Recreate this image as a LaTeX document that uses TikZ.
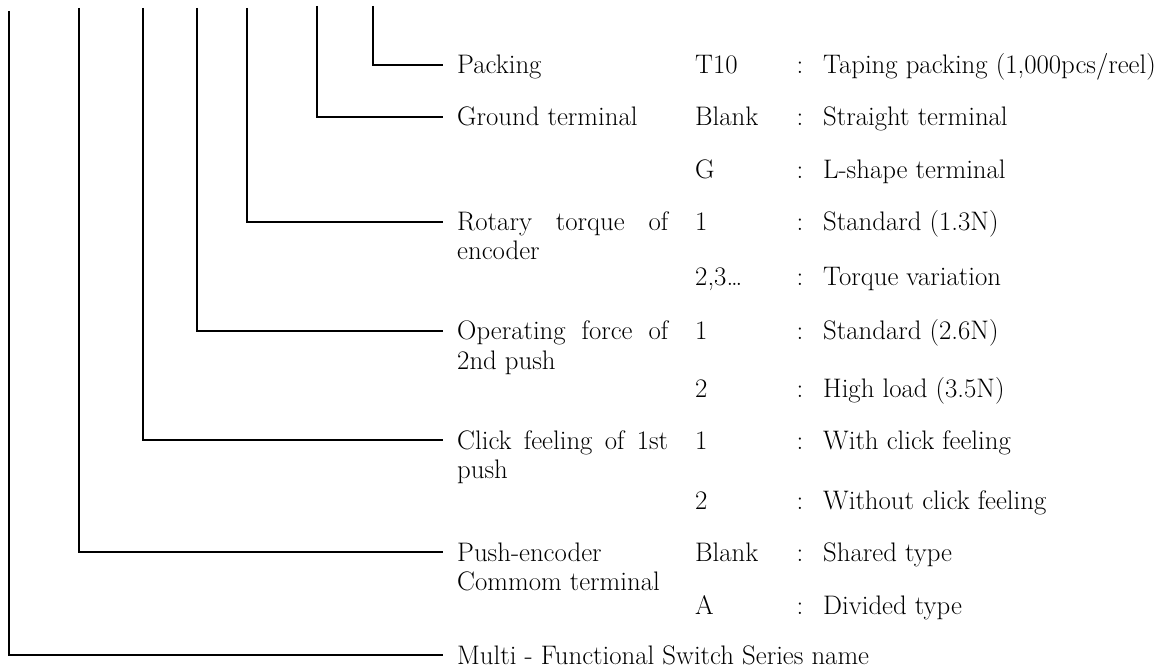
\documentclass[tikz,border=0pt]{standalone}
\begin{document}
\begin{tikzpicture}[x=1pt,y=-1pt,
  txt/.style={anchor=base west, inner sep=0pt, font=\fontsize{26.8}{29}\selectfont},
  colon/.style={anchor=base, inner sep=0pt, font=\fontsize{26.8}{29}\selectfont},
  conn/.style={line width=2pt, line join=miter}]
\useasboundingbox (0,0) rectangle (1171,671);
% top ends of the vertical lines
\coordinate (t1) at (9,11);
\coordinate (t2) at (79,8);
\coordinate (t3) at (143,8);
\coordinate (t4) at (197,8);
\coordinate (t5) at (247,8);
\coordinate (t6) at (317,6);
\coordinate (t7) at (373,6);
% labels (baseline = line y + 8.5)
\node[txt] (lpk) at (457,74) {Packing};
\node[txt] (lgt) at (457,126) {Ground terminal};
\node[txt] (lrt) at (457,231) {\vtop{\hbox{\makebox[211pt][s]{Rotary torque of}}\hbox{encoder}}};
\node[txt] (lof) at (457,340) {\vtop{\hbox{\makebox[211pt][s]{Operating force of}}\hbox{2nd push}}};
\node[txt] (lcf) at (457,449) {\vtop{\hbox{\makebox[211pt][s]{Click feeling of 1st}}\hbox{push}}};
\node[txt] (lpe) at (457,561) {\vtop{\hbox{Push-encoder}\hbox{Commom terminal}}};
\node[txt] (lms) at (457,664) {Multi - Functional Switch Series name};
% connectors
\draw[conn] (t1) |- ([shift={(-14,-9)}]lms.base west);
\draw[conn] (t2) |- ([shift={(-14,-9)}]lpe.base west);
\draw[conn] (t3) |- ([shift={(-14,-9)}]lcf.base west);
\draw[conn] (t4) |- ([shift={(-14,-9)}]lof.base west);
\draw[conn] (t5) |- ([shift={(-14,-9)}]lrt.base west);
\draw[conn] (t6) |- ([shift={(-14,-9)}]lgt.base west);
\draw[conn] (t7) |- ([shift={(-14,-9)}]lpk.base west);
% options
\foreach \i/\y/\c/\d in {
  1/65/T10/{Taping packing (1,000pcs/reel)},
  2/117/Blank/{Straight terminal},
  3/170/G/{L-shape terminal},
  4/222/1/{Standard (1.3N)},
  5/277/{2,3\ldots}/{Torque variation},
  6/331/1/{Standard (2.6N)},
  7/388/2/{High load (3.5N)},
  8/440/1/{With click feeling},
  9/500/2/{Without click feeling},
  10/552/Blank/{Shared type},
  11/605/A/{Divided type}}{
  \node[txt] (c\i) at (695,\y+9) {\c};
  \node[colon] (k\i) at (800,\y+9) {:};
  \node[txt] (d\i) at (823,\y+9) {\d};
}
\end{tikzpicture}
\end{document}
